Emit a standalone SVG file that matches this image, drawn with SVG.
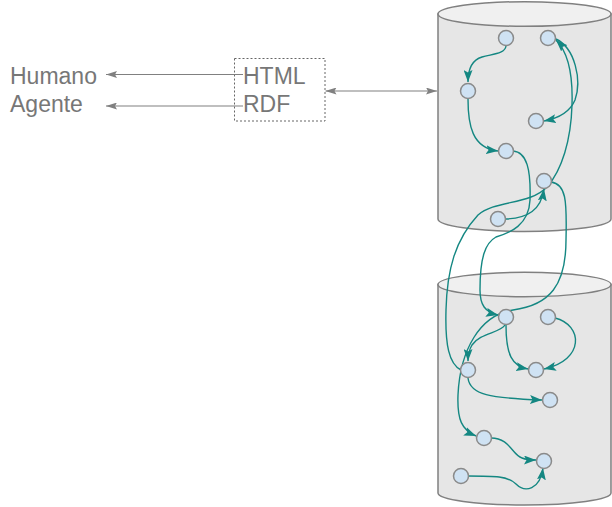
<svg xmlns="http://www.w3.org/2000/svg" width="612" height="507" viewBox="0 0 612 507">
<style>
.cyl{fill:#e6e6e6;stroke:#808080;stroke-width:1.5}
.cyltop{fill:#f0f0f0;stroke:#808080;stroke-width:1.5}
.node{fill:#cfe2f3;stroke:#8a8a8a;stroke-width:1.5}
.edge{fill:none;stroke:#148782;stroke-width:1.4}
.garrow{fill:none;stroke:#808080;stroke-width:1.2}
.lbl{font-family:"Liberation Sans",Arial,sans-serif;font-size:23px;fill:#777777}
</style>
<defs>
<marker id="ah" viewBox="0 0 12 9" refX="12" refY="4.5" markerWidth="12" markerHeight="9" markerUnits="userSpaceOnUse" orient="auto">
<path d="M0,0 L12,4.5 L0,9 L2.5,4.5 z" fill="#148782"/>
</marker>
<marker id="gah" viewBox="0 0 11 7" refX="11" refY="3.5" markerWidth="11" markerHeight="7" markerUnits="userSpaceOnUse" orient="auto-start-reverse">
<path d="M0,0 L11,3.5 L0,7 L2,3.5 z" fill="#808080"/>
</marker>
</defs>

<g id="cylinder-top">
<path class="cyl" d="M438,14 L438,219 A86.5,12.5 0 0 0 611,219 L611,14 Z"/>
<ellipse class="cyltop" cx="524.5" cy="14" rx="86.5" ry="12.3"/>
</g>
<g id="cylinder-bottom">
<path class="cyl" d="M438,284.5 L438,493 A86.5,12 0 0 0 611,493 L611,284.5 Z"/>
<ellipse class="cyltop" cx="524.5" cy="284.5" rx="86.5" ry="12.2"/>
</g>

<g id="box-formats">
<rect x="234.5" y="58.5" width="90.5" height="62.5" fill="none" stroke="#666666" stroke-width="1" stroke-dasharray="2,2"/>
<text class="lbl" x="243" y="84">HTML</text>
<text class="lbl" x="243" y="112">RDF</text>
</g>
<g id="label-humano"><text class="lbl" x="10" y="84">Humano</text></g>
<g id="label-agente"><text class="lbl" x="10" y="112">Agente</text></g>

<g id="connectors">
<line class="garrow" x1="243" y1="74.5" x2="106" y2="74.5" marker-end="url(#gah)"/>
<line class="garrow" x1="243" y1="106" x2="106" y2="106" marker-end="url(#gah)"/>
<line class="garrow" x1="325.5" y1="91" x2="437" y2="91" marker-start="url(#gah)" marker-end="url(#gah)"/>

<path class="edge" d="M506,46 C505,54 492,54 482,57 C472,60 468,68 468,82" marker-end="url(#ah)"/>
<path class="edge" d="M468,99 C468,125 472,148 498,151" marker-end="url(#ah)"/>
<path class="edge" d="M556,39 C575,48 582,80 575,100 C570,112 560,118 544,121" marker-end="url(#ah)"/>
<path class="edge" d="M506,219 C528,218 541,210 544,189" marker-end="url(#ah)"/>
<path class="edge" d="M513,151 C527,152 531,170 530,200 C529,225 510,233 496,237 C485,243 480,258 480,290 C480,305 485,312 498,315" marker-end="url(#ah)"/>
<path class="edge" d="M551,182 C566,184 567,200 566,240 C566,285 550,305 513,310 C480,315 460,350 458,395 C457,420 462,430 476,436" marker-end="url(#ah)"/>
<path class="edge" d="M461,370 C449,364 445,345 446,310 C447,270 455,240 478,215 C495,200 530,205 547,187 C562,170 571,140 572,105 C573,75 568,52 556,40" marker-end="url(#ah)"/>
<path class="edge" d="M505,325 C500,333 480,333 472,345 C469,350 468,354 468,361" marker-end="url(#ah)"/>
<path class="edge" d="M506,325 C506,355 512,366 528,369" marker-end="url(#ah)"/>
<path class="edge" d="M555,318 C583,325 585,360 544,369" marker-end="url(#ah)"/>
<path class="edge" d="M468,378 C470,395 490,398 542,400" marker-end="url(#ah)"/>
<path class="edge" d="M491,438 C510,438 512,455 522,458 C527,460 531,460 536,460" marker-end="url(#ah)"/>
<path class="edge" d="M468,476 C495,476 508,476 516,484 C525,493 540,490 543,468" marker-end="url(#ah)"/>
</g>

<g id="node-a"><circle class="node" cx="506" cy="38" r="7.5"/></g>
<g id="node-b"><circle class="node" cx="548" cy="38" r="7.5"/></g>
<g id="node-c"><circle class="node" cx="468" cy="91" r="7.5"/></g>
<g id="node-d"><circle class="node" cx="536" cy="121" r="7.5"/></g>
<g id="node-e"><circle class="node" cx="506" cy="151" r="7.5"/></g>
<g id="node-f"><circle class="node" cx="544" cy="181" r="7.5"/></g>
<g id="node-g"><circle class="node" cx="498" cy="219" r="7.5"/></g>
<g id="node-h"><circle class="node" cx="506" cy="317" r="7.5"/></g>
<g id="node-i"><circle class="node" cx="548" cy="317" r="7.5"/></g>
<g id="node-j"><circle class="node" cx="468" cy="370" r="7.5"/></g>
<g id="node-k"><circle class="node" cx="536" cy="370" r="7.5"/></g>
<g id="node-l"><circle class="node" cx="550" cy="400" r="7.5"/></g>
<g id="node-m"><circle class="node" cx="484" cy="438" r="7.5"/></g>
<g id="node-n"><circle class="node" cx="544" cy="461" r="7.5"/></g>
<g id="node-o"><circle class="node" cx="461" cy="476" r="7.5"/></g>
</svg>
